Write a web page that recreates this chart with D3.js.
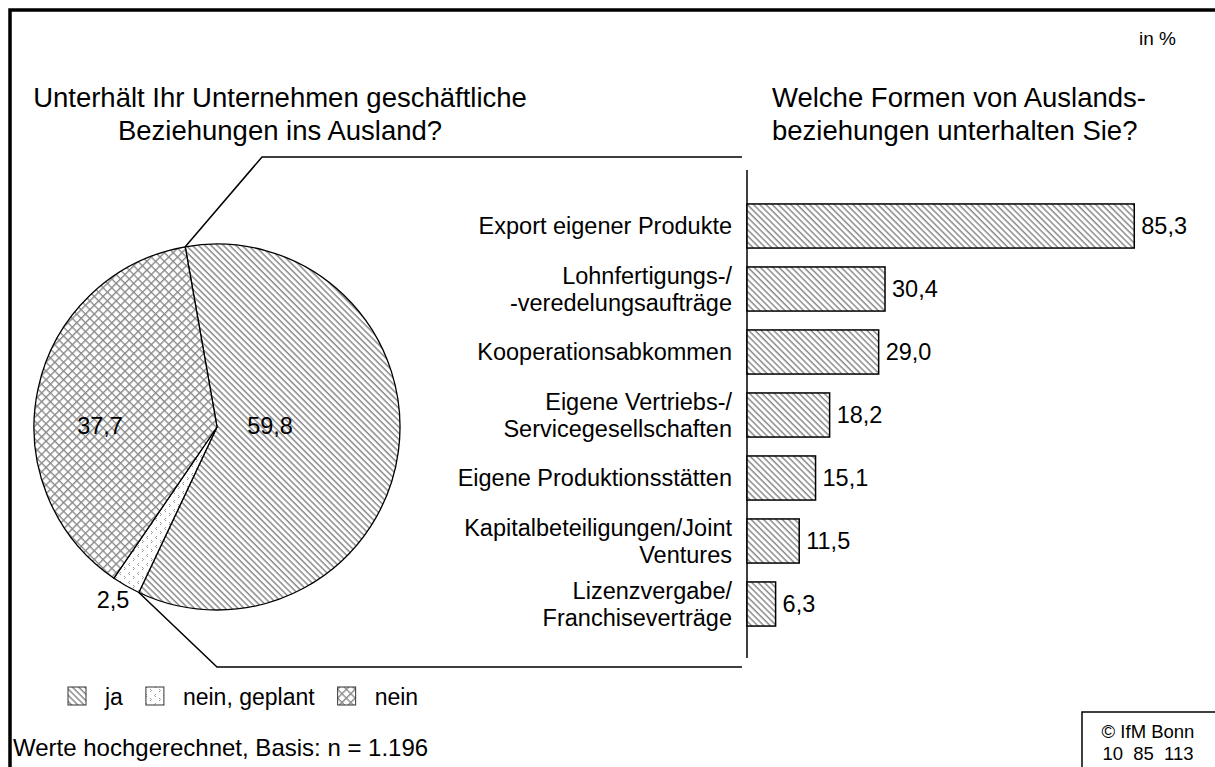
<!DOCTYPE html>
<html>
<head>
<meta charset="utf-8">
<script src="https://cdn.jsdelivr.net/npm/d3@7"></script>
<style>
  body { margin: 0; background: #fff; }
  svg text { font-family: "Liberation Sans", Arial, sans-serif; fill: #000; }
</style>
</head>
<body>
<svg id="chart" width="1215" height="767"></svg>
<script>
// pie data
const pieLabels = ["ja", "nein, geplant", "nein"];
const pieValues = [59.8, 2.5, 37.7];
const piePatterns = ["hatch", "dots", "cross"];

// bar data
const barCategories = [
  "Export eigener Produkte",
  "Lohnfertigungs-/\n-veredelungsaufträge",
  "Kooperationsabkommen",
  "Eigene Vertriebs-/\nServicegesellschaften",
  "Eigene Produktionsstätten",
  "Kapitalbeteiligungen/Joint\nVentures",
  "Lizenzvergabe/\nFranchiseverträge"
];
const barValues = [85.3, 30.4, 29.0, 18.2, 15.1, 11.5, 6.3];

const fmt = v => v.toFixed(1).replace(".", ",");

const svg = d3.select("#chart");
const defs = svg.append("defs");

// fill patterns
const hatch = defs.append("pattern")
  .attr("id", "hatch").attr("patternUnits", "userSpaceOnUse")
  .attr("width", 4.4).attr("height", 4.4)
  .attr("patternTransform", "rotate(-45)");
hatch.append("rect").attr("width", 4.4).attr("height", 4.4).attr("fill", "#fff");
hatch.append("line").attr("x1", 1).attr("x2", 1).attr("y1", 0).attr("y2", 4.4)
  .attr("stroke", "#7a7a7a").attr("stroke-width", 1.3);

const cross = defs.append("pattern")
  .attr("id", "cross").attr("patternUnits", "userSpaceOnUse")
  .attr("width", 6.2).attr("height", 6.2)
  .attr("patternTransform", "rotate(45)");
cross.append("rect").attr("width", 6.2).attr("height", 6.2).attr("fill", "#fff");
cross.append("path").attr("d", "M0.7,0V6.2M0,0.7H6.2")
  .attr("stroke", "#8a8a8a").attr("stroke-width", 1.4);

const dots = defs.append("pattern")
  .attr("id", "dots").attr("patternUnits", "userSpaceOnUse")
  .attr("width", 9).attr("height", 9);
dots.append("rect").attr("width", 9).attr("height", 9).attr("fill", "#fff");
dots.append("path").attr("d", "M3,1 l-1.5,1.5 l1.5,1.5 M6,5 l1.5,1.5 l-1.5,1.5")
  .attr("fill", "none").attr("stroke", "#9a9a9a").attr("stroke-width", 1);

// outer frame (only left and top edges are visible)
svg.append("path")
  .attr("d", "M10,767V10H1215")
  .attr("fill", "none").attr("stroke", "#000").attr("stroke-width", 3.5);

// "in %"
svg.append("text").attr("x", 1176).attr("y", 45).attr("text-anchor", "end")
  .style("font-size", "19px").text("in %");

// titles
const leftTitle = ["Unterhält Ihr Unternehmen geschäftliche", "Beziehungen ins Ausland?"];
const rightTitle = ["Welche Formen von Auslands-", "beziehungen unterhalten Sie?"];
svg.append("g").selectAll("text").data(leftTitle).join("text")
  .attr("x", 280).attr("y", (d, i) => 107 + i * 33)
  .attr("text-anchor", "middle").style("font-size", "27.5px").text(d => d);
svg.append("g").selectAll("text").data(rightTitle).join("text")
  .attr("x", 772).attr("y", (d, i) => 107 + i * 33)
  .style("font-size", "27.5px").text(d => d);

// pie
const cx = 217, cy = 427, r = 183;
const startOffset = -10 * Math.PI / 180;
const pie = d3.pie().sort(null)
  .startAngle(startOffset).endAngle(startOffset + 2 * Math.PI);
const arcs = pie(pieValues);
const arc = d3.arc().innerRadius(0).outerRadius(r);

const pieG = svg.append("g").attr("transform", `translate(${cx},${cy})`);
pieG.selectAll("path").data(arcs).join("path")
  .attr("d", arc)
  .attr("fill", (d, i) => `url(#${piePatterns[i]})`)
  .attr("stroke", "#000").attr("stroke-width", 1.3);

const labelPos = [[53, -1], [-104, 173], [-117, -1]];
pieG.selectAll("text").data(arcs).join("text")
  .attr("x", (d, i) => labelPos[i][0])
  .attr("y", (d, i) => labelPos[i][1])
  .attr("text-anchor", "middle").attr("dominant-baseline", "central")
  .style("font-size", "23.5px")
  .text(d => fmt(d.value));

// connector lines from the "ja" slice to the bar panel
const jaArc = arcs[0];
const edgePt = a => [cx + r * Math.sin(a), cy - r * Math.cos(a)];
const [tx, ty] = edgePt(jaArc.startAngle);
const [bx, by] = edgePt(jaArc.endAngle);
svg.append("path")
  .attr("d", `M${tx},${ty}L262,157H742M${bx},${by}L217,667H742`)
  .attr("fill", "none").attr("stroke", "#000").attr("stroke-width", 1.5);

// bars
const x = d3.scaleLinear().domain([0, 100]).range([747, 1201]);
const y = d3.scaleBand().domain(barCategories)
  .range([194.5, 635.5]).paddingInner(0.3).paddingOuter(0.15);

svg.append("line")
  .attr("x1", x(0)).attr("x2", x(0)).attr("y1", 170).attr("y2", 658)
  .attr("stroke", "#000").attr("stroke-width", 1.5);

svg.append("g").selectAll("rect").data(barValues).join("rect")
  .attr("x", x(0))
  .attr("y", (d, i) => y(barCategories[i]))
  .attr("width", d => x(d) - x(0))
  .attr("height", y.bandwidth())
  .attr("fill", "url(#hatch)")
  .attr("stroke", "#000").attr("stroke-width", 1.5);

svg.append("g").selectAll("text").data(barValues).join("text")
  .attr("x", d => x(d) + 7)
  .attr("y", (d, i) => y(barCategories[i]) + y.bandwidth() / 2)
  .attr("dominant-baseline", "central")
  .style("font-size", "23.5px")
  .text(d => fmt(d));

const catLabels = svg.append("g").selectAll("text").data(barCategories).join("text")
  .attr("text-anchor", "end")
  .style("font-size", "23.5px");
catLabels.each(function(d) {
  const lines = d.split("\n");
  const mid = y(d) + y.bandwidth() / 2;
  d3.select(this).selectAll("tspan").data(lines).join("tspan")
    .attr("x", 732)
    .attr("y", (l, i) => mid + (i - (lines.length - 1) / 2) * 27)
    .attr("dominant-baseline", "central")
    .text(l => l);
});

// legend: items placed one after another by their text width
const legend = svg.append("g");
let lx = 68;
pieLabels.forEach((label, i) => {
  legend.append("rect")
    .attr("x", lx).attr("y", 687)
    .attr("width", 18).attr("height", 18)
    .attr("fill", `url(#${piePatterns[i]})`)
    .attr("stroke", "#333").attr("stroke-width", 1);
  const t = legend.append("text")
    .attr("x", lx + 37).attr("y", 697).attr("dominant-baseline", "central")
    .style("font-size", "23px").text(label);
  lx += 37 + t.node().getComputedTextLength() + 23;
});

// footnote
svg.append("text").attr("x", 13).attr("y", 756)
  .style("font-size", "24px").text("Werte hochgerechnet, Basis: n = 1.196");

// copyright box
svg.append("path").attr("d", "M1082,767V712H1215")
  .attr("fill", "none").attr("stroke", "#000").attr("stroke-width", 1.5);
svg.append("g").selectAll("text").data(["© IfM Bonn", "10  85  113"]).join("text")
  .attr("x", 1148).attr("y", (d, i) => 731 + i * 22)
  .attr("text-anchor", "middle").attr("dominant-baseline", "central")
  .style("font-size", "18.5px")
  .attr("xml:space", "preserve")
  .text(d => d);
</script>
</body>
</html>
